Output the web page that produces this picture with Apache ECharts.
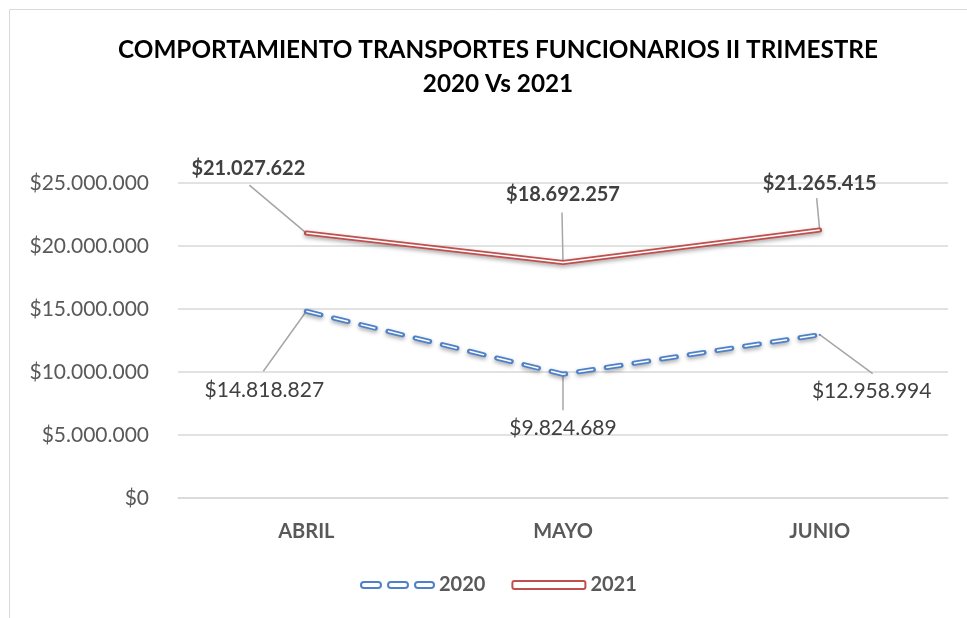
<!DOCTYPE html>
<html>
<head>
<meta charset="utf-8">
<script src="https://cdn.jsdelivr.net/npm/echarts@6/dist/echarts.min.js"></script>
<style>
  html, body { margin: 0; padding: 0; background: #fff; }
  #chart { width: 967px; height: 618px; }
</style>
</head>
<body>
<div id="chart"></div>
<script>
// Datos de la gráfica
var meses = ['ABRIL', 'MAYO', 'JUNIO'];
var valores2020 = [14818827, 9824689, 12958994];
var valores2021 = [21027622, 18692257, 21265415];
var ticksY = [0, 5000000, 10000000, 15000000, 20000000, 25000000];

var azul = '#4f81c9';
var rojo = '#c0504d';
var gris = '#a6a6a6';
var fuente = 'Lato';

// desplazamiento de cada etiqueta respecto a su punto
var offs2020 = [[-42, 79], [0, 54], [52, 57]];
var offs2021 = [[-58, -65], [0, -68], [0, -47]];
// extremo de cada línea guía respecto a su punto
var guia2020 = [[-43, 60], [0, 36], [53, 39]];
var guia2021 = [[-57, -48], [-1, -50], [-3, -32]];

function pesos(v) {
  return '$' + String(Math.round(v)).replace(/\B(?=(\d{3})+(?!\d))/g, '.');
}

// icono de leyenda: tres trazos redondeados
var iconoDiscontinuo = 'path://M3,0H17A3,3 0 0 1 17,6H3A3,3 0 0 1 3,0Z' +
  'M30,0H44A3,3 0 0 1 44,6H30A3,3 0 0 1 30,0Z' +
  'M57,0H70A3,3 0 0 1 70,6H57A3,3 0 0 1 57,0Z';

// serie personalizada que dibuja las líneas guía de las etiquetas
function serieGuias(valores, guias) {
  return {
    type: 'custom',
    silent: true,
    z: 1,
    data: valores.map(function (v, i) { return [i, v]; }),
    renderItem: function (params, api) {
      var p = api.coord([api.value(0), api.value(1)]);
      var off = guias[params.dataIndex];
      return {
        type: 'line',
        shape: { x1: p[0], y1: p[1], x2: p[0] + off[0], y2: p[1] + off[1] },
        style: { stroke: gris, lineWidth: 1.5 }
      };
    }
  };
}

var chartDom = document.getElementById('chart');
var myChart = echarts.init(chartDom);

var option = {
  animation: false,
  title: {
    text: 'COMPORTAMIENTO TRANSPORTES FUNCIONARIOS II TRIMESTRE\n2020 Vs 2021',
    left: 493,
    textAlign: 'center',
    top: 28,
    textStyle: {
      fontFamily: fuente,
      fontWeight: 'bold',
      fontSize: 24.3,
      color: '#000',
      lineHeight: 34
    }
  },
  graphic: [{
    type: 'rect',
    shape: { x: 9.5, y: 9.5, width: 980, height: 640 },
    style: { fill: 'none', stroke: '#d9d9d9', lineWidth: 1 },
    silent: true
  }],
  legend: {
    bottom: 18,
    left: 355,
    itemWidth: 73,
    itemHeight: 8,
    itemGap: 26,
    textStyle: { fontFamily: fuente, fontWeight: 'bold', fontSize: 20, color: '#595959' },
    data: [
      { name: '2020', icon: iconoDiscontinuo,
        itemStyle: { color: '#fff', borderColor: azul, borderWidth: 2 } },
      { name: '2021', icon: 'roundRect',
        itemStyle: { color: '#fff', borderColor: rojo, borderWidth: 2 } }
    ]
  },
  grid: { left: 178, right: 19, top: 183, bottom: 120 },
  xAxis: {
    type: 'category',
    data: meses,
    axisLine: { lineStyle: { color: '#d9d9d9', width: 1.5 } },
    axisTick: { show: false },
    axisLabel: {
      margin: 24,
      fontFamily: fuente, fontWeight: 'bold', fontSize: 20, color: '#595959'
    }
  },
  yAxis: {
    type: 'value',
    min: ticksY[0],
    max: ticksY[ticksY.length - 1],
    interval: ticksY[1] - ticksY[0],
    axisLine: { show: false },
    axisTick: { show: false },
    splitLine: { lineStyle: { color: '#d9d9d9', width: 1.5 } },
    axisLabel: {
      margin: 29,
      fontFamily: fuente, fontSize: 21, color: '#595959',
      formatter: pesos
    }
  },
  series: [
    serieGuias(valores2020, guia2020),
    serieGuias(valores2021, guia2021),
    {
      name: '2020',
      type: 'line',
      data: valores2020,
      symbol: 'circle',
      symbolSize: 2,
      z: 2,
      lineStyle: {
        color: azul, width: 5, type: [15, 13], cap: 'round',
        shadowColor: 'rgba(0,0,0,0.35)', shadowBlur: 4, shadowOffsetY: 2
      },
      itemStyle: { color: azul },
      label: {
        show: true, position: 'inside',
        fontFamily: fuente, fontSize: 21, color: '#404040',
        formatter: function (p) { return pesos(p.value); }
      },
      labelLayout: function (p) {
        return { dx: offs2020[p.dataIndex][0], dy: offs2020[p.dataIndex][1] };
      }
    },
    {
      name: '2020 interior',
      type: 'line',
      data: valores2020,
      symbol: 'none',
      silent: true,
      z: 3,
      lineStyle: { color: '#fff', width: 1.5, type: [15, 13], cap: 'butt' }
    },
    {
      name: '2021',
      type: 'line',
      data: valores2021,
      symbol: 'circle',
      symbolSize: 2,
      z: 2,
      lineStyle: {
        color: rojo, width: 5, cap: 'round',
        shadowColor: 'rgba(0,0,0,0.35)', shadowBlur: 4, shadowOffsetY: 2
      },
      itemStyle: { color: rojo },
      label: {
        show: true, position: 'inside',
        fontFamily: fuente, fontSize: 20, fontWeight: 'bold', color: '#404040',
        formatter: function (p) { return pesos(p.value); }
      },
      labelLayout: function (p) {
        return { dx: offs2021[p.dataIndex][0], dy: offs2021[p.dataIndex][1] };
      }
    },
    {
      name: '2021 interior',
      type: 'line',
      data: valores2021,
      symbol: 'none',
      silent: true,
      z: 3,
      lineStyle: { color: '#fff', width: 1.5 }
    }
  ]
};

myChart.setOption(option);
</script>
</body>
</html>
